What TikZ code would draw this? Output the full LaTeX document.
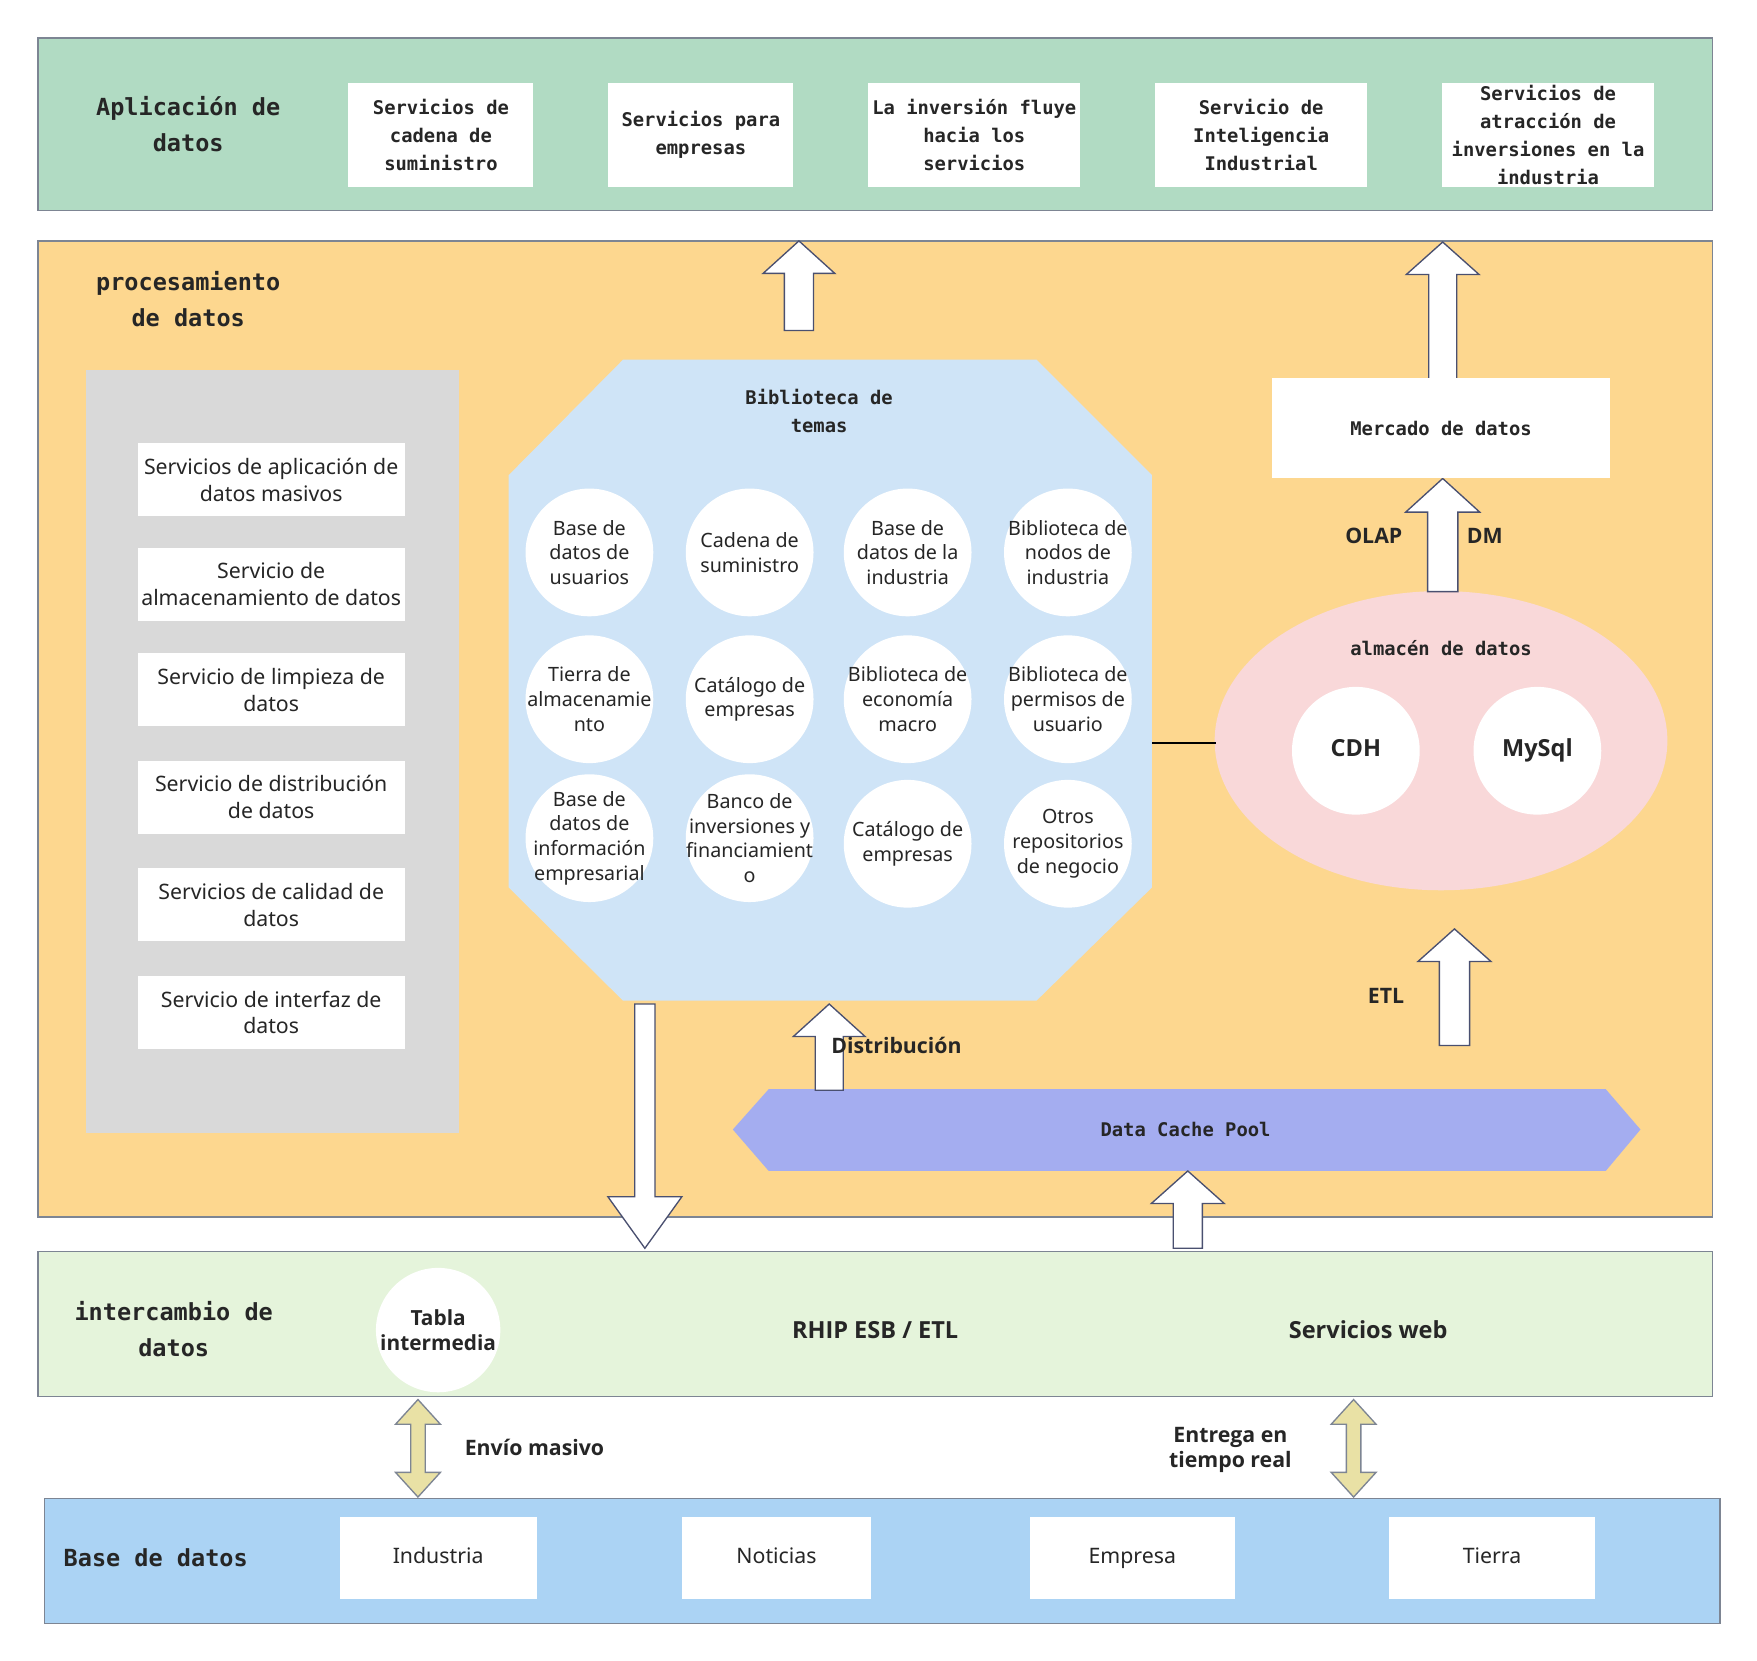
\documentclass[tikz,border=0pt]{standalone}
\usepackage{fontspec}
\setmainfont{Noto Sans}
\newfontfamily\hdrfont{DejaVu Sans Mono}
\IfFontExistsTF{Noto Sans Bold}{\newfontfamily\lblfont{Noto Sans Bold}}{%
  \IfFontExistsTF{Open Sans Bold}{\newfontfamily\lblfont{Open Sans Bold}}{%
    \newfontfamily\lblfont{Liberation Sans Bold}}}
\usetikzlibrary{shapes.geometric}
\definecolor{cgreen}{HTML}{B1DBC3}
\definecolor{corange}{HTML}{FDD78F}
\definecolor{cgray}{HTML}{D9D9D9}
\definecolor{cocta}{HTML}{CFE4F7}
\definecolor{cpink}{HTML}{F9D8D9}
\definecolor{clav}{HTML}{A4ADF0}
\definecolor{cexch}{HTML}{E5F4DB}
\definecolor{cdb}{HTML}{ABD3F4}
\definecolor{cyel}{HTML}{E9E1A5}
\definecolor{cborder}{HTML}{7D8593}
\definecolor{carrow}{HTML}{4A5070}
\definecolor{ctext}{HTML}{262626}
\tikzset{
  bandbox/.style={draw=cborder, line width=0.6pt},
  whitebox/.style={fill=white, draw=none, align=center, text=ctext},
  hdrtxt/.style={font=\hdrfont\bfseries\fontsize{8.4}{12.5}\selectfont, text=ctext, align=center},
  bighdr/.style={font=\hdrfont\bfseries\fontsize{10.5}{16}\selectfont, align=center, text=ctext},
  bodytxt/.style={font=\fontsize{9.5}{12}\selectfont},
  dbtxt/.style={font=\fontsize{9.5}{12}\selectfont, text height=7pt, text depth=2pt},
  circbg/.style={circle, fill=white, draw=none, minimum size=57pt, inner sep=0pt},
  circtxt/.style={align=center, text=ctext, inner sep=0pt, font=\fontsize{8.8}{11}\selectfont},
  boldlbl/.style={font=\lblfont\fontsize{9.5}{11.5}\selectfont, text=ctext, align=center},
  biglbl/.style={font=\lblfont\fontsize{10.5}{12}\selectfont, text=ctext, align=center},
  blockarrow/.style={fill=white, draw=carrow, line width=0.6pt, line join=miter},
  dblarrowstyle/.style={fill=cyel, draw=cborder, line width=0.6pt},
}
\newcommand\mybox[7]{\node[#6, minimum width={(#4-#2)*0.5pt}, minimum height={(#5-#3)*0.5pt}, inner sep=0pt] (#1) at ({(#2+#4)/2},{(#3+#5)/2}) {#7};}
\newcommand\mycirc[4]{\node[circbg] (#1) at (#2,#3) {}; \node[circtxt] (#1-t) at (#1) {#4};}
\newcommand\myuparr[6]{\draw[blockarrow] ({#1-#4},{#2}) -- ({#1-#4},{#3+#6}) -- ({#1-#5},{#3+#6}) -- ({#1},{#3}) -- ({#1+#5},{#3+#6}) -- ({#1+#4},{#3+#6}) -- ({#1+#4},{#2}) -- cycle;}
\newcommand\mydownarr[6]{\draw[blockarrow] ({#1-#4},{#2}) -- ({#1-#4},{#3-#6}) -- ({#1-#5},{#3-#6}) -- ({#1},{#3}) -- ({#1+#5},{#3-#6}) -- ({#1+#4},{#3-#6}) -- ({#1+#4},{#2}) -- cycle;}
\newcommand\mydblarr[3]{\draw[dblarrowstyle] ({#1},{#2}) -- ({#1+20},{#2+22}) -- ({#1+6.5},{#2+22}) -- ({#1+6.5},{#3-22}) -- ({#1+20},{#3-22}) -- ({#1},{#3}) -- ({#1-20},{#3-22}) -- ({#1-6.5},{#3-22}) -- ({#1-6.5},{#2+22}) -- ({#1-20},{#2+22}) -- cycle;}
\begin{document}
\begin{tikzpicture}[x=0.5pt, y=-0.5pt]
\useasboundingbox[fill=white] (0,0) rectangle (1568,1482);

% ---------- Aplicacion de datos ----------
\mybox{app}{34}{34}{1528}{188}{bandbox, fill=cgreen}{}
\node[bighdr] (applbl) at (168,111) {Aplicación de\\datos};
\mybox{a1}{311}{74}{476}{167}{whitebox, hdrtxt}{Servicios de\\cadena de\\suministro}
\mybox{a2}{543}{74}{708}{167}{whitebox, hdrtxt}{Servicios para\\empresas}
\mybox{a3}{775}{74}{964}{167}{whitebox, hdrtxt}{La inversión fluye\\hacia los\\servicios}
\mybox{a4}{1031}{74}{1220}{167}{whitebox, hdrtxt}{Servicio de\\Inteligencia\\Industrial}
\mybox{a5}{1287}{74}{1476}{167}{whitebox, hdrtxt}{Servicios de\\atracción de\\inversiones en la\\industria}

% ---------- procesamiento de datos ----------
\mybox{proc}{34}{215}{1528}{1086}{bandbox, fill=corange}{}
\node[bighdr] (proclbl) at (168,267) {procesamiento\\de datos};
\mybox{grayc}{77}{330}{410}{1011}{fill=cgray}{}
\mybox{g1}{123}{395.5}{361}{460.5}{whitebox, bodytxt}{Servicios de aplicación de\\datos masivos}
\mybox{g2}{123}{489}{361}{554}{whitebox, bodytxt}{Servicio de\\almacenamiento de datos}
\mybox{g3}{123}{583}{361}{648}{whitebox, bodytxt}{Servicio de limpieza de\\datos}
\mybox{g4}{123}{679}{361}{744}{whitebox, bodytxt}{Servicio de distribución\\de datos}
\mybox{g5}{123}{775}{361}{840}{whitebox, bodytxt}{Servicios de calidad de\\datos}
\mybox{g6}{123}{871}{361}{936}{whitebox, bodytxt}{Servicio de interfaz de\\datos}

% octagon
\coordinate (oc1) at (556,321);
\coordinate (oc2) at (925,321);
\coordinate (oc3) at (1028,424);
\coordinate (oc4) at (1028,792);
\coordinate (oc5) at (925,893);
\coordinate (oc6) at (556,893);
\coordinate (oc7) at (454,792);
\coordinate (oc8) at (454,424);
\fill[cocta] (oc1) -- (oc2) -- (oc3) -- (oc4) -- (oc5) -- (oc6) -- (oc7) -- (oc8) -- cycle;
\node[hdrtxt] (octtitle) at (731,367) {Biblioteca de\\temas};
\mycirc{c11}{526}{493}{Base de\\datos de\\usuarios}
\mycirc{c12}{669}{493}{Cadena de\\suministro}
\mycirc{c13}{810}{493}{Base de\\datos de la\\industria}
\mycirc{c14}{953}{493}{Biblioteca de\\nodos de\\industria}
\mycirc{c21}{526}{624}{Tierra de\\almacenamie\\nto}
\mycirc{c22}{669}{624}{Catálogo de\\empresas}
\mycirc{c23}{810}{624}{Biblioteca de\\economía\\macro}
\mycirc{c24}{953}{624}{Biblioteca de\\permisos de\\usuario}
\mycirc{c31}{526}{748}{Base de\\datos de\\información\\empresarial}
\mycirc{c32}{669}{748}{Banco de\\inversiones y\\financiamient\\o}
\mycirc{c33}{810}{753}{Catálogo de\\empresas}
\mycirc{c34}{953}{753}{Otros\\repositorios\\de negocio}

% data warehouse
\node[ellipse, fill=cpink, minimum width=202pt, minimum height=133.5pt, inner sep=0pt] (dw) at (1286,661) {};
\node[hdrtxt] (dwlbl) at (1286,578) {almacén de datos};
\node[circbg, font=\lblfont\fontsize{10.5}{12}\selectfont, text=ctext, text height=7.5pt, text depth=2pt] (cdh) at (1210,670) {CDH};
\node[circbg, font=\lblfont\fontsize{10.5}{12}\selectfont, text=ctext, text height=7.5pt, text depth=2pt] (mysql) at (1372,670) {MySql};
\coordinate (octeast) at (1028,663);
\coordinate (dwwest) at (1085,663);
\draw[black, line width=0.6pt] (octeast) -- (dwwest);

% data cache pool
\coordinate (h1) at (654,1008);
\coordinate (h2) at (686,972);
\coordinate (h3) at (1433,972);
\coordinate (h4) at (1464,1008);
\coordinate (h5) at (1433,1045);
\coordinate (h6) at (686,1045);
\fill[clav] (h1) -- (h2) -- (h3) -- (h4) -- (h5) -- (h6) -- cycle;
\node[hdrtxt] (dcp) at (1058,1008) {Data Cache Pool};

% block arrows
\myuparr{713}{295}{215}{13}{32}{29}
\myuparr{1287.5}{338}{216}{12.5}{32.5}{29}
\myuparr{1287.5}{528}{427}{13.5}{33}{30}
\myuparr{1298}{933}{829}{13.5}{32.5}{29}
\mydownarr{575.5}{896}{1114}{9}{33}{46}
\myuparr{740}{973}{896}{12.5}{32}{29}
\myuparr{1060}{1114}{1045}{13}{32.5}{29}

\mybox{mart}{1135}{337}{1437}{427}{whitebox, hdrtxt}{Mercado de datos}
\node[boldlbl] (olap) at (1226,478) {OLAP};
\node[boldlbl] (dm) at (1325,478) {DM};
\node[boldlbl] (etl) at (1237,889) {ETL};
\node[boldlbl] (distr) at (800,933) {Distribución};

% ---------- intercambio de datos ----------
\mybox{exch}{34}{1117}{1528}{1246}{bandbox, fill=cexch}{}
\node[bighdr] (exchlbl) at (155,1186) {intercambio de\\datos};
\node[circle, fill=white, minimum size=55.5pt, inner sep=0pt, font=\lblfont\fontsize{9.3}{11.5}\selectfont, text=ctext, align=center] (tabla) at (391,1187) {Tabla\\intermedia};
\node[biglbl] (rhip) at (781,1187) {RHIP ESB / ETL};
\node[biglbl] (web) at (1221,1187) {Servicios web};

% ---------- Base de datos ----------
\mybox{db}{40}{1337}{1535}{1449}{bandbox, fill=cdb}{}
\node[bighdr] (dblbl) at (139,1390) {Base de datos};
\mybox{d1}{303}{1354}{479}{1427}{whitebox, dbtxt}{Industria}
\mybox{d2}{609}{1354}{777}{1427}{whitebox, dbtxt}{Noticias}
\mybox{d3}{919}{1354}{1102}{1427}{whitebox, dbtxt}{Empresa}
\mybox{d4}{1240}{1354}{1423}{1427}{whitebox, dbtxt}{Tierra}

\mydblarr{373}{1249}{1336}
\mydblarr{1208}{1249}{1336}
\node[boldlbl] (masivo) at (477,1292) {Envío masivo};
\node[boldlbl] (real) at (1098,1294) {Entrega en\\tiempo real};
\end{tikzpicture}
\end{document}
